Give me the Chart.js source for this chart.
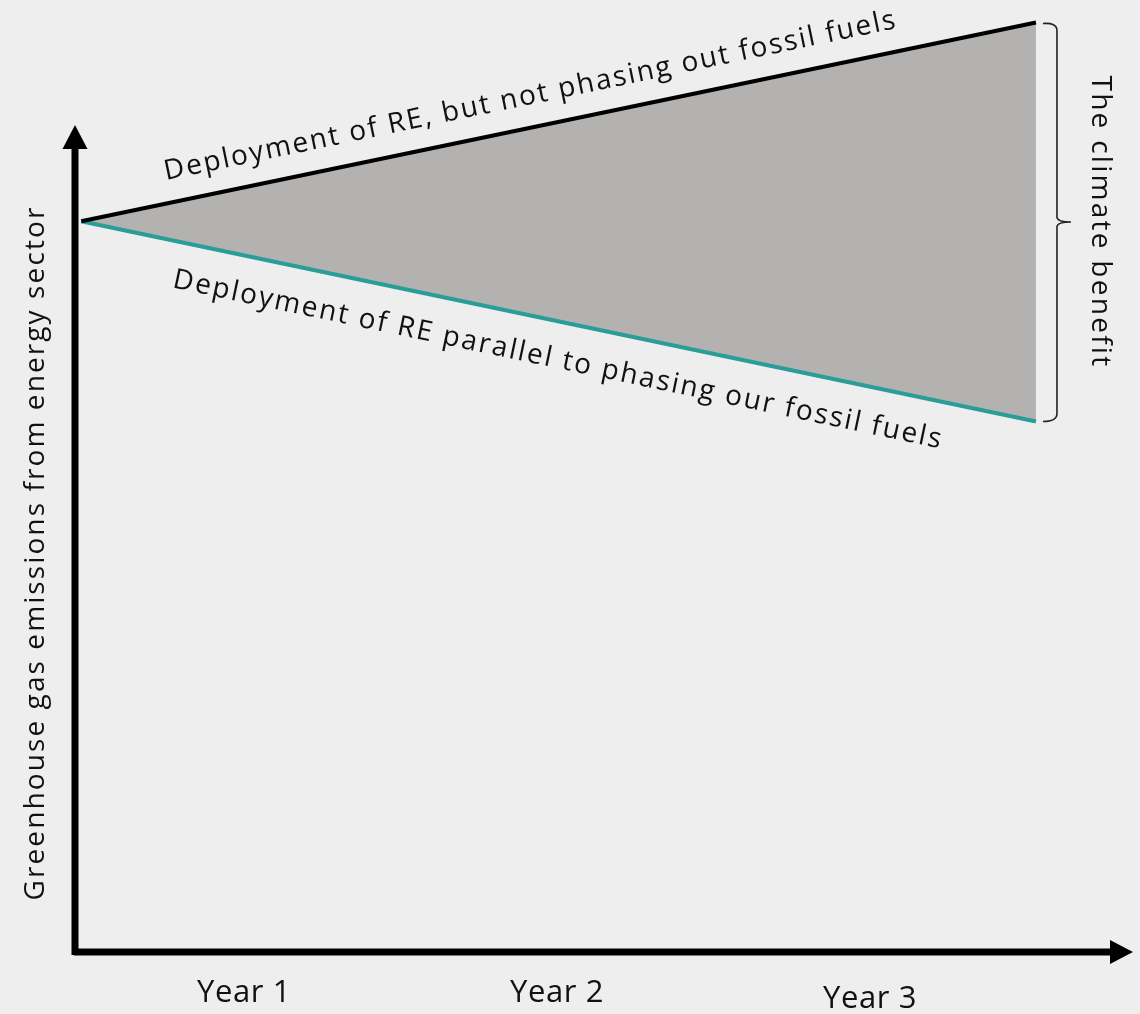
<!DOCTYPE html>
<html>
<head>
<meta charset="utf-8">
<script src="https://cdn.jsdelivr.net/npm/chart.js@4.4.1/dist/chart.umd.min.js"></script>
<style>
  html, body { margin: 0; padding: 0; background: #eeeeee; }
  #wrap { width: 1140px; height: 1014px; position: relative; }
</style>
</head>
<body>
<div id="wrap"><canvas id="c" width="1140" height="1014"></canvas></div>
<script>
// ---- data ----
const periods = [0.48, 3.53];                 // x positions (in "years") of the start and end points
const notPhasingOut = [100, 127.2];           // Deployment of RE, but not phasing out fossil fuels
const phasingOut = [100, 72.6];               // Deployment of RE parallel to phasing out fossil fuels
const yearTicks = [1, 2, 3];
const yearLabels = ['Year 1', 'Year 2', 'Year 3'];
const seriesLabels = ['Deployment of RE, but not phasing out fossil fuels',
                      'Deployment of RE parallel to phasing our fossil fuels'];
const yAxisTitle = 'Greenhouse gas emissions from energy sector';
const braceLabel = 'The climate benefit';

// ---- styles ----
const FONT = '"Open Sans", "Noto Sans", sans-serif';
const tickDrop = [0, 0, 6];

// set font and letter spacing so that text spans roughly the given width
function fitFont(c, size, text, target) {
  c.font = size + 'px ' + FONT;
  if ('letterSpacing' in c) {
    c.letterSpacing = '0px';
    const w = c.measureText(text).width;
    const ls = Math.max(0, (target - w) / text.length);
    c.letterSpacing = ls.toFixed(2) + 'px';
  }
}

const overlay = {
  id: 'overlay',
  beforeDraw(chart) {
    const c = chart.ctx;
    c.save();
    c.fillStyle = '#eeeeee';
    c.fillRect(0, 0, chart.width, chart.height);
    c.restore();
  },
  afterDraw(chart) {
    const c = chart.ctx;
    const xs = chart.scales.x, ys = chart.scales.y;
    const ca = chart.chartArea;
    c.save();
    // axes
    c.fillStyle = '#000';
    c.fillRect(ca.left - 3.5, 148, 7, ca.bottom + 3 - 148);
    c.beginPath();
    c.moveTo(ca.left - 12.5, 149); c.lineTo(ca.left, 125); c.lineTo(ca.left + 12.5, 149); c.closePath(); c.fill();
    c.fillRect(ca.left - 1, ca.bottom - 3.5, ca.right - 23 - ca.left + 1, 7);
    c.beginPath();
    c.moveTo(ca.right - 23, ca.bottom - 12); c.lineTo(ca.right, ca.bottom); c.lineTo(ca.right - 23, ca.bottom + 12); c.closePath(); c.fill();

    // tick labels
    c.fillStyle = '#111';
    c.textAlign = 'center';
    c.textBaseline = 'alphabetic';
    yearTicks.forEach((v, i) => {
      fitFont(c, 31, yearLabels[i], 94);
      c.fillText(yearLabels[i], xs.getPixelForValue(v), 1002 + tickDrop[i]);
    });

    // series labels along lines
    const drawAlong = (vals, label, cx, off, target) => {
      const x0 = xs.getPixelForValue(periods[0]), x1 = xs.getPixelForValue(periods[1]);
      const y0 = ys.getPixelForValue(vals[0]), y1 = ys.getPixelForValue(vals[1]);
      const ang = Math.atan2(y1 - y0, x1 - x0);
      const cy = y0 + (cx - x0) * (y1 - y0) / (x1 - x0);
      c.save();
      c.translate(cx, cy);
      c.rotate(ang);
      fitFont(c, 28, label, target);
      c.fillStyle = '#111';
      c.textAlign = 'center';
      c.textBaseline = 'alphabetic';
      c.fillText(label, 0, off);
      c.restore();
    };
    drawAlong(notPhasingOut, seriesLabels[0], 537, -23, 748);
    drawAlong(phasingOut, seriesLabels[1], 566, 46, 786);

    // brace
    const xe = xs.getPixelForValue(periods[1]);
    const yt = ys.getPixelForValue(notPhasingOut[1]);
    const yb = ys.getPixelForValue(phasingOut[1]);
    const ym = (yt + yb) / 2;
    const bx = xe + 21;
    c.strokeStyle = '#222';
    c.lineWidth = 1.6;
    c.beginPath();
    c.moveTo(xe + 7, yt + 1);
    c.quadraticCurveTo(bx, yt, bx, yt + 8);
    c.lineTo(bx, ym - 5);
    c.quadraticCurveTo(bx, ym, bx + 14, ym);
    c.quadraticCurveTo(bx, ym, bx, ym + 5);
    c.lineTo(bx, yb - 8);
    c.quadraticCurveTo(bx, yb, xe + 7, yb);
    c.stroke();

    // brace label
    c.save();
    c.translate(1100, ym);
    c.rotate(Math.PI / 2);
    fitFont(c, 28, braceLabel, 293);
    c.fillStyle = '#111';
    c.textAlign = 'center';
    c.textBaseline = 'middle';
    c.fillText(braceLabel, 0, 0);
    c.restore();

    // y axis title
    c.save();
    c.translate(36, 553);
    c.rotate(-Math.PI / 2);
    fitFont(c, 28, yAxisTitle, 695);
    c.fillStyle = '#111';
    c.textAlign = 'center';
    c.textBaseline = 'middle';
    c.fillText(yAxisTitle, 0, 0);
    c.restore();

    c.restore();
  }
};

const toPts = (ys) => periods.map((x, i) => ({ x, y: ys[i] }));

new Chart(document.getElementById('c'), {
  type: 'line',
  data: {
    datasets: [
      {
        label: seriesLabels[0],
        data: toPts(notPhasingOut),
        borderColor: '#000000',
        borderWidth: 4,
        pointRadius: 0,
        fill: '+1',
        backgroundColor: '#b3b2b0',
        tension: 0
      },
      {
        label: seriesLabels[1],
        data: toPts(phasingOut),
        borderColor: '#2a9d98',
        borderWidth: 4,
        pointRadius: 0,
        fill: false,
        tension: 0
      }
    ]
  },
  options: {
    responsive: false,
    animation: false,
    devicePixelRatio: 1,
    clip: false,
    layout: { padding: { left: 75, right: 7, top: 2, bottom: 62 } },
    plugins: {
      legend: { display: false },
      tooltip: { enabled: false },
      filler: { drawTime: 'beforeDatasetsDraw' }
    },
    scales: {
      x: { type: 'linear', min: 0.46, max: 3.84, display: false },
      y: { type: 'linear', min: 0, max: 130, display: false }
    }
  },
  plugins: [overlay]
});
</script>
</body>
</html>
